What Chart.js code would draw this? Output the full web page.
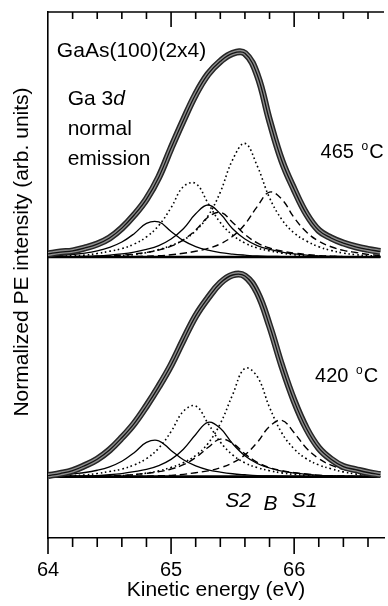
<!DOCTYPE html>
<html>
<head>
<meta charset="utf-8">
<script src="https://cdn.jsdelivr.net/npm/chart.js@4.4.1/dist/chart.umd.min.js"></script>
<style>
html, body { margin: 0; padding: 0; background: #fff; overflow: hidden; }
#chart { display: block; }
</style>
</head>
<body>
<canvas id="chart" width="388" height="606"></canvas>
<script>
// kinetic energy grid (eV)
const energy = [64.0, 64.1, 64.2, 64.3, 64.4, 64.5, 64.6, 64.7, 64.8, 64.9,
                65.0, 65.1, 65.2, 65.3, 65.4, 65.5, 65.6, 65.7, 65.8, 65.9,
                66.0, 66.1, 66.2, 66.3, 66.4, 66.5, 66.6, 66.7];

// 465 C spectrum (normalized, relative to its own baseline)
const envelope465 = [0.015, 0.024, 0.030, 0.044, 0.063, 0.093, 0.141, 0.205, 0.283, 0.390,
                     0.532, 0.668, 0.795, 0.893, 0.956, 0.995, 0.995, 0.890, 0.667, 0.470,
                     0.330, 0.210, 0.130, 0.093, 0.068, 0.050, 0.037, 0.027];
const s2Low465  = [0.004, 0.008, 0.013, 0.019, 0.030, 0.047, 0.073, 0.114, 0.164, 0.171,
                   0.125, 0.080, 0.051, 0.033, 0.021, 0.014, 0.009, 0.005, 0.003, 0.002,
                   0.001, 0, 0, 0, 0, 0, 0, 0];
const s2High465 = [0, 0.001, 0.002, 0.003, 0.005, 0.009, 0.015, 0.024, 0.037, 0.056,
                   0.088, 0.138, 0.211, 0.254, 0.211, 0.138, 0.088, 0.056, 0.037, 0.024,
                   0.015, 0.009, 0.005, 0.003, 0.002, 0.001, 0, 0];
const bLow465   = [0.002, 0.003, 0.006, 0.009, 0.017, 0.028, 0.041, 0.063, 0.098, 0.154,
                   0.241, 0.344, 0.359, 0.263, 0.168, 0.107, 0.068, 0.044, 0.030, 0.019,
                   0.011, 0.006, 0.004, 0.002, 0.001, 0, 0, 0];
const bHigh465  = [0, 0, 0, 0, 0.002, 0.004, 0.007, 0.012, 0.021, 0.036,
                   0.056, 0.083, 0.128, 0.200, 0.317, 0.475, 0.555, 0.445, 0.289, 0.183,
                   0.117, 0.078, 0.050, 0.032, 0.019, 0.011, 0.007, 0.003];
const s1Low465  = [0, 0, 0.001, 0.002, 0.003, 0.005, 0.009, 0.015, 0.022, 0.034,
                   0.053, 0.084, 0.132, 0.194, 0.218, 0.169, 0.110, 0.069, 0.044, 0.029,
                   0.019, 0.012, 0.007, 0.004, 0.002, 0.001, 0, 0];
const s1High465 = [0, 0, 0, 0, 0, 0, 0.001, 0.002, 0.004, 0.006,
                   0.011, 0.018, 0.028, 0.042, 0.064, 0.101, 0.160, 0.246, 0.317, 0.282,
                   0.192, 0.122, 0.077, 0.050, 0.032, 0.022, 0.013, 0.007];

// 420 C spectrum
const envelope420 = [0.005, 0.015, 0.029, 0.054, 0.085, 0.130, 0.190, 0.259, 0.345, 0.440,
                     0.545, 0.668, 0.785, 0.873, 0.946, 0.985, 0.980, 0.900, 0.737, 0.541,
                     0.370, 0.235, 0.140, 0.085, 0.049, 0.034, 0.020, 0.010];
const s2Low420  = [0.005, 0.008, 0.014, 0.020, 0.031, 0.048, 0.075, 0.117, 0.167, 0.175,
                   0.128, 0.082, 0.052, 0.033, 0.022, 0.014, 0.009, 0.005, 0.003, 0.002,
                   0.001, 0, 0, 0, 0, 0, 0, 0];
const s2High420 = [0, 0, 0.002, 0.003, 0.005, 0.009, 0.015, 0.024, 0.035, 0.054,
                   0.084, 0.134, 0.206, 0.265, 0.236, 0.161, 0.102, 0.064, 0.042, 0.027,
                   0.018, 0.011, 0.006, 0.004, 0.002, 0.001, 0, 0];
const bLow420   = [0.001, 0.002, 0.005, 0.008, 0.015, 0.025, 0.037, 0.057, 0.088, 0.139,
                   0.220, 0.319, 0.345, 0.260, 0.169, 0.106, 0.067, 0.044, 0.029, 0.018,
                   0.011, 0.006, 0.004, 0.002, 0.001, 0, 0, 0];
const bHigh420  = [0, 0, 0, 0, 0.002, 0.003, 0.005, 0.009, 0.017, 0.028,
                   0.045, 0.068, 0.103, 0.162, 0.259, 0.400, 0.529, 0.489, 0.338, 0.213,
                   0.135, 0.087, 0.057, 0.038, 0.023, 0.013, 0.008, 0.004];
const s1Low420  = [0, 0, 0, 0.001, 0.002, 0.003, 0.006, 0.010, 0.016, 0.024,
                   0.037, 0.058, 0.093, 0.142, 0.183, 0.163, 0.111, 0.070, 0.044, 0.029,
                   0.019, 0.013, 0.007, 0.004, 0.003, 0.001, 0, 0];
const s1High420 = [0, 0, 0, 0, 0, 0, 0, 0.001, 0.002, 0.004,
                   0.006, 0.011, 0.019, 0.028, 0.043, 0.067, 0.106, 0.167, 0.245, 0.275,
                   0.214, 0.139, 0.088, 0.056, 0.036, 0.024, 0.015, 0.009];

// vertical offset of the upper (465 C) spectrum
const offset465 = 1.073;
const offset420 = 0;

// axis ranges and ticks
const xMin = 64, xMax = 66.73, xStep = 0.2;
const yMin = -0.30, yMax = 2.27;

// annotation texts, anchored in data units
const annotations = [
    { text: 'GaAs(100)(2x4)', x: 64.072, y: 2.05 },
    { text: 'normal', x: 64.16, y: 1.668 },
    { text: 'emission', x: 64.16, y: 1.522 }
];
const componentLabels = [
    { text: 'S2', x: 65.44, y: -0.149 },
    { text: 'B', x: 65.75, y: -0.163 },
    { text: 'S1', x: 65.98, y: -0.149 }
];
const tempLabels = [
    { value: '465', x: 66.215, y: 1.555 },
    { value: '420', x: 66.17, y: 0.462 }
];

const FONT = 'Arial, "Liberation Sans", sans-serif';
Chart.defaults.font.family = FONT;
Chart.defaults.color = '#000';

function series(values, off) {
    return energy.map((e, i) => ({ x: e, y: values[i] + off }));
}

function line(values, off, opts) {
    return Object.assign({
        data: series(values, off),
        borderColor: '#000',
        borderWidth: 1.3,
        pointRadius: 0,
        tension: 0.4,
        fill: false
    }, opts);
}

function panel(off, env, s2l, s2h, bl, bh, s1l, s1h) {
    const dotted = { borderDash: [1.6, 2.8], borderWidth: 1.6 };
    const dashed = { borderDash: [7, 4], borderWidth: 1.4 };
    return [
        line(env, off, { borderWidth: 1.3, borderColor: '#111' }),          // fit
        line(env, off, { borderWidth: 4, borderColor: '#8e8e8e' }),         // data band core
        line(env, off, { borderWidth: 7, borderColor: '#262626' }),         // data band edge
        line(s2l, off, {}),
        line(s2h, off, {}),
        line(bl, off, dotted),
        line(bh, off, dotted),
        line(s1l, off, dashed),
        line(s1h, off, dashed),
        line(energy.map(() => 0), off, { borderWidth: 2.6, tension: 0 })    // baseline
    ];
}

const datasets = [].concat(
    panel(offset465, envelope465, s2Low465, s2High465, bLow465, bHigh465, s1Low465, s1High465),
    panel(offset420, envelope420, s2Low420, s2High420, bLow420, bHigh420, s1Low420, s1High420)
);

// tick marks, top frame line and the text labels
const decorations = {
    id: 'decorations',
    afterDraw(chart) {
        const ctx = chart.ctx;
        const xs = chart.scales.x, ys = chart.scales.y;
        const area = chart.chartArea;
        ctx.save();
        ctx.strokeStyle = '#000';
        ctx.lineWidth = 1.6;

        // top frame
        ctx.beginPath();
        ctx.moveTo(area.left, area.top);
        ctx.lineTo(area.right, area.top);
        ctx.stroke();

        xs.ticks.forEach(t => {
            const px = xs.getPixelForValue(t.value);
            const major = Math.abs(t.value - Math.round(t.value)) < 1e-6;
            ctx.beginPath();
            ctx.moveTo(px, area.bottom);
            ctx.lineTo(px, area.bottom + (major ? 16 : 9));
            if (px > area.left + 1) {
                ctx.moveTo(px, area.top);
                ctx.lineTo(px, area.top + (major ? 15 : 7));
            }
            ctx.stroke();
        });

        ctx.fillStyle = '#000';
        ctx.textBaseline = 'alphabetic';
        ctx.textAlign = 'left';
        ctx.font = '21px ' + FONT;
        annotations.forEach(a => {
            ctx.fillText(a.text, xs.getPixelForValue(a.x), ys.getPixelForValue(a.y));
        });

        // "Ga 3d" with italic d
        const gx = xs.getPixelForValue(64.16), gy = ys.getPixelForValue(1.815);
        ctx.fillText('Ga 3', gx, gy);
        const w = ctx.measureText('Ga 3').width;
        ctx.font = 'italic 21px ' + FONT;
        ctx.fillText('d', gx + w, gy);

        // S2, B, S1
        ctx.font = 'italic 21px ' + FONT;
        componentLabels.forEach(a => {
            ctx.fillText(a.text, xs.getPixelForValue(a.x), ys.getPixelForValue(a.y));
        });

        // temperatures
        tempLabels.forEach(a => {
            const px = xs.getPixelForValue(a.x), py = ys.getPixelForValue(a.y);
            ctx.font = '20px ' + FONT;
            const tw = ctx.measureText(a.value + ' ').width;
            ctx.fillText(a.value + ' ', px, py);
            ctx.font = '12px ' + FONT;
            ctx.fillText('o', px + tw + 2, py - 8);
            const ow = ctx.measureText('o').width;
            ctx.font = '20px ' + FONT;
            ctx.fillText('C', px + tw + 2 + ow + 1, py);
        });

        // y axis title
        ctx.translate(22.5, (area.top + area.bottom) / 2 - 23);
        ctx.rotate(-Math.PI / 2);
        ctx.textAlign = 'center';
        ctx.textBaseline = 'middle';
        ctx.font = '21px ' + FONT;
        ctx.fillText('Normalized PE intensity (arb. units)', 0, 0);
        ctx.restore();
    }
};

new Chart(document.getElementById('chart'), {
    type: 'line',
    data: { datasets },
    options: {
        responsive: false,
        animation: false,
        layout: { padding: { top: 12, right: 0, bottom: 0, left: 0 } },
        plugins: { legend: { display: false }, tooltip: { enabled: false } },
        scales: {
            x: {
                type: 'linear',
                position: 'bottom',
                min: xMin,
                max: xMax,
                grid: { display: false, drawTicks: false },
                border: { display: true, color: '#000', width: 1.6 },
                ticks: {
                    stepSize: xStep,
                    includeBounds: false,
                    autoSkip: false,
                    maxRotation: 0,
                    padding: 20,
                    font: { size: 20 },
                    color: '#000',
                    callback: v => Math.abs(v - Math.round(v)) < 1e-6 ? String(Math.round(v)) : ''
                },
                title: {
                    display: true,
                    text: 'Kinetic energy (eV)',
                    font: { size: 21 },
                    color: '#000',
                    padding: { top: 0, bottom: 3 }
                },
                afterFit: s => { s.height = 68; }
            },
            y: {
                type: 'linear',
                position: 'left',
                min: yMin,
                max: yMax,
                grid: { display: false, drawTicks: false },
                border: { display: true, color: '#000', width: 1.6 },
                ticks: { display: false },
                afterFit: s => { s.width = 48; }
            }
        }
    },
    plugins: [decorations]
});
</script>
</body>
</html>
